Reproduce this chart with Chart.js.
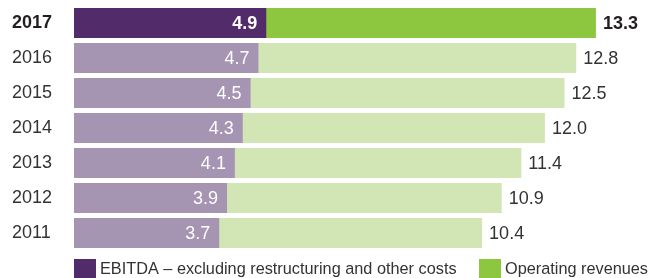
<!DOCTYPE html>
<html>
<head>
<meta charset="utf-8">
<script src="https://cdn.jsdelivr.net/npm/chart.js@4/dist/chart.umd.min.js"></script>
<style>
  html, body { margin: 0; padding: 0; background: #ffffff; }
  #wrap { width: 649px; height: 278px; position: relative; }
</style>
</head>
<body>
<div id="wrap"><canvas id="c" width="649" height="278"></canvas></div>
<script>
const years = ['2017', '2016', '2015', '2014', '2013', '2012', '2011'];
const ebitda = [4.9, 4.7, 4.5, 4.3, 4.1, 3.9, 3.7];
const revenues = [13.3, 12.8, 12.5, 12.0, 11.4, 10.9, 10.4];
const seriesNames = ['EBITDA \u2013 excluding restructuring and other costs', 'Operating revenues'];

const purpleDark = '#522B6B', purpleLight = '#A694B3';
const greenDark = '#8DC63F', greenLight = '#D1E5B5';
const FONT = "'Liberation Sans', Arial, sans-serif";

const valueLabels = {
  id: 'valueLabels',
  afterDatasetsDraw(chart) {
    const ctx = chart.ctx;
    ctx.save();
    ctx.textBaseline = 'middle';
    const m0 = chart.getDatasetMeta(0), m1 = chart.getDatasetMeta(1);
    years.forEach((y, i) => {
      const bold = i === 0;
      ctx.font = (bold ? 'bold ' : '') + '18px ' + FONT;
      const e = m0.data[i], r = m1.data[i];
      ctx.fillStyle = '#ffffff';
      ctx.textAlign = 'right';
      ctx.fillText(ebitda[i].toFixed(1), e.x - 9, e.y + 1);
      ctx.fillStyle = bold ? '#231F20' : '#333333';
      ctx.textAlign = 'left';
      ctx.fillText(revenues[i].toFixed(1), r.x + 7, r.y + 1);
    });
    ctx.restore();
  }
};

const customLegend = {
  id: 'customLegend',
  afterDraw(chart) {
    const ctx = chart.ctx;
    ctx.save();
    ctx.font = '16.3px ' + FONT;
    ctx.textBaseline = 'alphabetic';
    ctx.textAlign = 'left';
    const items = [
      { x: 74, color: purpleDark, text: seriesNames[0] },
      { x: 479, color: greenDark, text: seriesNames[1] }
    ];
    items.forEach(it => {
      ctx.fillStyle = it.color;
      ctx.fillRect(it.x, 259, 22, 22);
      ctx.fillStyle = '#333333';
      ctx.fillText(it.text, it.x + 26, 274);
    });
    ctx.restore();
  }
};

new Chart(document.getElementById('c'), {
  type: 'bar',
  data: {
    labels: years,
    datasets: [
      {
        label: seriesNames[0],
        data: ebitda,
        backgroundColor: years.map((y, i) => i === 0 ? purpleDark : purpleLight),
        grouped: false,
        barPercentage: 30 / 35,
        categoryPercentage: 1
      },
      {
        label: seriesNames[1],
        data: revenues,
        backgroundColor: years.map((y, i) => i === 0 ? greenDark : greenLight),
        grouped: false,
        barPercentage: 30 / 35,
        categoryPercentage: 1
      }
    ]
  },
  options: {
    indexAxis: 'y',
    responsive: false,
    animation: false,
    devicePixelRatio: 1,
    layout: { padding: { left: 12, right: 6, top: 5.5, bottom: 27.5 } },
    plugins: { legend: { display: false }, tooltip: { enabled: false } },
    scales: {
      x: { display: false, min: 0, max: 14.5 },
      y: {
        grid: { display: false },
        border: { display: false },
        afterFit(scale) { scale.width = 62; scale.paddingTop = 0; scale.paddingBottom = 0; },
        ticks: {
          crossAlign: 'far',
          padding: 0,
          color: (c) => c.index === 0 ? '#231F20' : '#333333',
          font: (c) => ({ family: FONT, size: 18, weight: c.index === 0 ? 'bold' : 'normal' })
        }
      }
    }
  },
  plugins: [valueLabels, customLegend]
});
</script>
</body>
</html>
